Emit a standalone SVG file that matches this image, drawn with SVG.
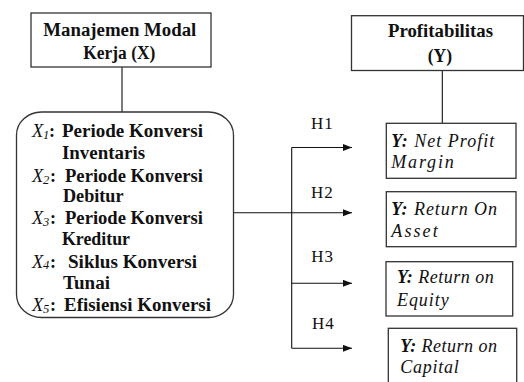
<svg xmlns="http://www.w3.org/2000/svg" width="524" height="382" viewBox="0 0 524 382">
<style>
.bg{fill:#fff}
.box{fill:#fff;stroke:#333;stroke-width:1.3}
.ln{fill:none;stroke:#111;stroke-width:1.1}
.t{font-family:"Liberation Serif","Times New Roman",serif;fill:#111}
.b{font-weight:bold;font-size:18px}
.xi{font-style:italic;font-size:18.5px}
.sub{font-style:italic;font-size:12.5px}
.yi{font-style:italic;font-size:18px}
.yb{font-weight:bold}
.h{font-size:17px}
</style>
<defs>
<marker id="arr" markerUnits="userSpaceOnUse" markerWidth="10" markerHeight="8" refX="9" refY="3.5" orient="auto">
<path d="M0,0 L9,3.5 L0,7 z" fill="#111"/>
</marker>
</defs>
<rect class="bg" width="524" height="382"/>

<g id="connectors">
<line class="ln" x1="122" y1="67" x2="122" y2="112"/>
<line class="ln" x1="442.3" y1="70.5" x2="442.3" y2="123.3"/>
<line class="ln" x1="291.7" y1="147.5" x2="291.7" y2="348.3"/>
<line class="ln" x1="291.7" y1="147.5" x2="352" y2="147.5" marker-end="url(#arr)"/>
<line class="ln" x1="233.5" y1="212.7" x2="352" y2="212.7" marker-end="url(#arr)"/>
<line class="ln" x1="291.7" y1="283.3" x2="352" y2="283.3" marker-end="url(#arr)"/>
<line class="ln" x1="291.7" y1="348.3" x2="352" y2="348.3" marker-end="url(#arr)"/>
<text class="t h" x="311" y="129.3" textLength="21.7">H1</text>
<text class="t h" x="311" y="198.3" textLength="21.7">H2</text>
<text class="t h" x="311.3" y="261.7" textLength="21.7">H3</text>
<text class="t h" x="312" y="329.3" textLength="21.7">H4</text>
</g>

<g id="mmk">
<rect class="box" x="31" y="13" width="180" height="54"/>
<text class="t b" x="43.3" y="35.7" textLength="153" lengthAdjust="spacingAndGlyphs">Manajemen Modal</text>
<text class="t b" x="83.3" y="58.5" textLength="72" lengthAdjust="spacingAndGlyphs">Kerja (X)</text>
</g>

<g id="indikatorX">
<rect class="box" x="16.5" y="112" width="217" height="205.5" rx="25" ry="23"/>
<text class="t" y="137"><tspan class="xi" x="32">X</tspan><tspan class="sub" x="43" dy="1.5">1</tspan><tspan class="b" x="49" dy="-1.5">:</tspan></text>
<text class="t b" x="62" y="137" textLength="141" lengthAdjust="spacingAndGlyphs">Periode Konversi</text>
<text class="t b" x="62" y="158.5" textLength="83" lengthAdjust="spacingAndGlyphs">Inventaris</text>
<text class="t" y="182"><tspan class="xi" x="32">X</tspan><tspan class="sub" x="43" dy="1.5">2</tspan><tspan class="b" x="50" dy="-1.5">:</tspan></text>
<text class="t b" x="65" y="182" textLength="138" lengthAdjust="spacingAndGlyphs">Periode Konversi</text>
<text class="t b" x="63" y="202" textLength="60.5" lengthAdjust="spacingAndGlyphs">Debitur</text>
<text class="t" y="224"><tspan class="xi" x="32">X</tspan><tspan class="sub" x="43" dy="1.5">3</tspan><tspan class="b" x="50" dy="-1.5">:</tspan></text>
<text class="t b" x="65" y="224" textLength="138" lengthAdjust="spacingAndGlyphs">Periode Konversi</text>
<text class="t b" x="62" y="244.5" textLength="68" lengthAdjust="spacingAndGlyphs">Kreditur</text>
<text class="t" y="267.5"><tspan class="xi" x="32">X</tspan><tspan class="sub" x="43" dy="1.5">4</tspan><tspan class="b" x="50" dy="-1.5">:</tspan></text>
<text class="t b" x="68" y="267.5" textLength="129" lengthAdjust="spacingAndGlyphs">Siklus Konversi</text>
<text class="t b" x="63" y="288.5" textLength="47" lengthAdjust="spacingAndGlyphs">Tunai</text>
<text class="t" y="311"><tspan class="xi" x="32">X</tspan><tspan class="sub" x="43" dy="1.5">5</tspan><tspan class="b" x="50" dy="-1.5">:</tspan></text>
<text class="t b" x="64" y="311" textLength="147" lengthAdjust="spacingAndGlyphs">Efisiensi Konversi</text>
</g>

<g id="profitabilitas">
<rect class="box" x="351.5" y="15.7" width="172" height="54.8"/>
<text class="t b" x="388" y="37.3" textLength="105" lengthAdjust="spacingAndGlyphs">Profitabilitas</text>
<text class="t b" x="427.7" y="61.7" textLength="24.3" lengthAdjust="spacingAndGlyphs">(Y)</text>
</g>

<g id="npm">
<rect class="box" x="386.3" y="123.3" width="129.7" height="55"/>
<text class="t yi" x="391.3" y="146.7" textLength="103"><tspan class="yb">Y:</tspan> Net Profit</text>
<text class="t yi" x="391.3" y="168.3" textLength="62.4">Margin</text>
</g>

<g id="roa">
<rect class="box" x="386.3" y="191.7" width="129.7" height="55"/>
<text class="t yi" x="391.3" y="215" textLength="105.7"><tspan class="yb">Y:</tspan> Return On</text>
<text class="t yi" x="391.3" y="236.7" textLength="46.4">Asset</text>
</g>

<g id="roe">
<rect class="box" x="386" y="261.7" width="126.7" height="54.3"/>
<text class="t yi" x="397" y="283.3" textLength="96.7"><tspan class="yb">Y:</tspan> Return on</text>
<text class="t yi" x="397" y="305.7" textLength="51.7">Equity</text>
</g>

<g id="roc">
<rect class="box" x="388.3" y="328.3" width="128.4" height="70"/>
<text class="t yi" x="400.3" y="351.7" textLength="96.7"><tspan class="yb">Y:</tspan> Return on</text>
<text class="t yi" x="400.3" y="373" textLength="58.4">Capital</text>
</g>
</svg>
